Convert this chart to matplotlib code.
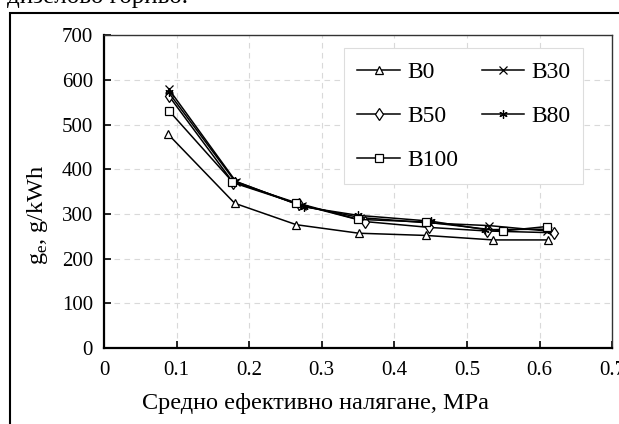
import matplotlib
matplotlib.use("Agg")
import matplotlib.pyplot as plt
from matplotlib.patches import Rectangle

plt.rcParams["font.family"] = ["Liberation Serif", "DejaVu Serif"]
plt.rcParams["mathtext.fontset"] = "custom"
plt.rcParams["mathtext.rm"] = "Liberation Serif"

# mean effective pressure, MPa and specific fuel consumption, g/kWh
p_b0 = [0.088, 0.180, 0.265, 0.351, 0.444, 0.536, 0.611]
ge_b0 = [479, 324, 276, 257, 252, 242, 242]

p_b30 = [0.089, 0.182, 0.273, 0.353, 0.447, 0.531, 0.610]
ge_b30 = [580, 372, 318, 292, 280, 274, 262]

p_b50 = [0.089, 0.178, 0.268, 0.360, 0.448, 0.527, 0.620]
ge_b50 = [565, 370, 322, 283, 270, 262, 258]

p_b80 = [0.089, 0.180, 0.275, 0.350, 0.450, 0.525, 0.612]
ge_b80 = [572, 374, 316, 297, 284, 265, 266]

p_b100 = [0.090, 0.177, 0.265, 0.350, 0.443, 0.549, 0.610]
ge_b100 = [530, 372, 325, 288, 282, 262, 272]

series = [
    ("B0", p_b0, ge_b0, "^"),
    ("B30", p_b30, ge_b30, "x"),
    ("B50", p_b50, ge_b50, "d"),
    ("B80", p_b80, ge_b80, (6, 2, 0)),
    ("B100", p_b100, ge_b100, "s"),
]

fig = plt.figure(figsize=(6.19, 4.24), dpi=100)
ax = fig.add_axes([0.168, 0.179, 0.821, 0.738])

lines = {}
for name, x, y, m in series:
    lines[name], = ax.plot(x, y, color="black", lw=1.1, marker=m, ms=6,
                           mfc="white", mec="black", mew=0.9, label=name)

ax.set_xlim(0, 0.7)
ax.set_ylim(0, 700)
ax.set_xticks([0, 0.1, 0.2, 0.3, 0.4, 0.5, 0.6, 0.7])
ax.set_xticklabels(["0", "0.1", "0.2", "0.3", "0.4", "0.5", "0.6", "0.7"])
ax.set_yticks(range(0, 701, 100))
ax.grid(True, color="#d9d9d9", lw=0.8, ls=(0, (5, 4)))
ax.set_axisbelow(True)
ax.tick_params(axis="x", direction="in", length=5, width=1.2, labelsize=15, pad=9)
ax.tick_params(axis="y", direction="in", length=5, width=1.2, labelsize=15, pad=8)
for s in ("left", "bottom"):
    ax.spines[s].set_linewidth(1.6)
for s in ("top", "right"):
    ax.spines[s].set_linewidth(1.0)
    ax.spines[s].set_color("#333333")

ax.set_xlabel("Средно ефективно налягане, MPa", fontsize=17.5)
ax.set_ylabel(r"g$_\mathregular{e}$, g/kWh", fontsize=17.5)
ax.xaxis.set_label_coords(0.417, -0.145)
ax.yaxis.set_label_coords(-0.107, 0.425)

# entries go row by row: B0 B30 / B50 B80 / B100
order = ["B0", "B50", "B100", "B30", "B80"]
leg = ax.legend([lines[n] for n in order], order,
                loc="upper right", bbox_to_anchor=(0.943, 0.958), ncol=2,
                fontsize=17, frameon=True, fancybox=False, framealpha=1,
                edgecolor="#dddddd", handlelength=1.8, handletextpad=0.3,
                labelspacing=0.95, columnspacing=1.0, borderpad=0.55,
                borderaxespad=0)
leg.get_frame().set_linewidth(0.8)

# page frame and the caption line above it
fig.patches.append(Rectangle((10 / 619, -0.1), 1.1, 0.969 + 0.1,
                             transform=fig.transFigure, fill=False,
                             edgecolor="black", lw=1.5))
fig.text(0.012, 0.992, "дизелово гориво.", fontsize=18, va="baseline")

fig.savefig("out.png", dpi=100)
